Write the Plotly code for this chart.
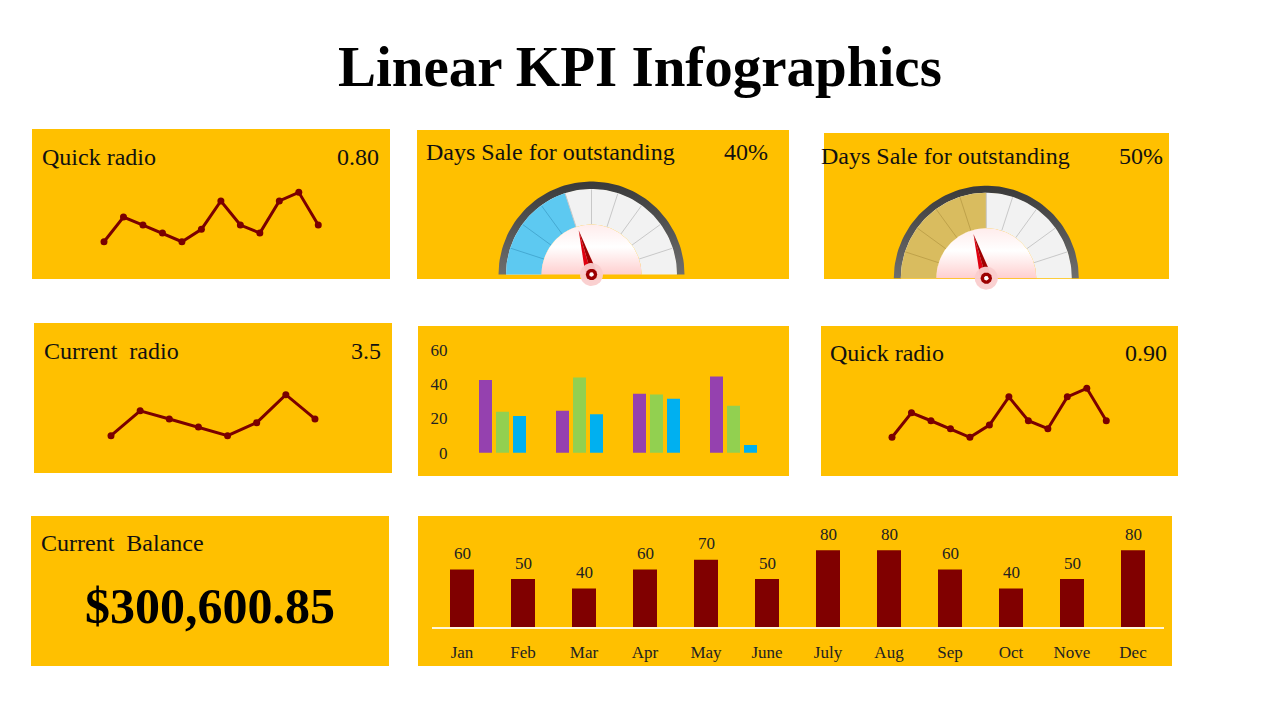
import numpy as np
import plotly.graph_objects as go

W, H = 1280, 720
FONT = "Liberation Serif"

# ---------------- data ----------------
title_text = "Linear KPI Infographics"

quick_ratio_a_vals = [1.0, 3.0, 2.35, 1.7, 1.0, 2.0, 4.3, 2.35, 1.7, 4.3, 5.0, 2.35]
quick_ratio_b_vals = [1.0, 3.0, 2.35, 1.7, 1.0, 2.0, 4.3, 2.35, 1.7, 4.3, 5.0, 2.35]
current_ratio_vals = [1.0, 3.0, 2.35, 1.7, 1.0, 2.05, 4.3, 2.35]

kpi_labels = ["Quick radio", "Days Sale for outstanding", "Days Sale for outstanding",
              "Current\u00a0 radio", "Quick radio"]
kpi_values = ["0.80", "40%", "50%", "3.5", "0.90"]

gauge_fill = [40, 50]
gauge_needle = [41, 41]

group_names = ["G1", "G2", "G3", "G4"]
series_purple = [42.5, 24.5, 34.5, 44.5]
series_green = [24, 44, 34, 27.5]
series_blue = [21.5, 22.5, 31.5, 4.5]
group_ticks = [0, 20, 40, 60]

months = ["Jan", "Feb", "Mar", "Apr", "May", "June", "July", "Aug", "Sep", "Oct", "Nove", "Dec"]
month_vals = [60, 50, 40, 60, 70, 50, 80, 80, 60, 40, 50, 80]

balance_label = "Current\u00a0 Balance"
balance_value = "$300,600.85"

# ---------------- helpers ----------------
def fx(x):
    return x / W


def fy(y):
    return 1 - y / H


def cat_axis(first_px, step_px, n):
    lo = first_px - 0.5 * step_px
    hi = first_px + (n - 0.5) * step_px
    return [fx(lo), fx(hi)], [-0.5, n - 0.5]


def val_axis(ref_px, ref_val, ppu, vmin, vmax):
    bottom = ref_px + (ref_val - vmin) * ppu
    top = ref_px - (vmax - ref_val) * ppu
    return [fy(bottom), fy(top)], [vmin, vmax]


YELLOW = "#FFC000"
MAROON = "#800000"
LINE_RED = "#7A0000"

fig = go.Figure()

# panels
panels = [(32, 129, 390, 279), (417, 130, 789, 279), (824, 133, 1169, 279),
          (34, 323, 392, 473), (418, 326, 789, 476), (821, 326, 1178, 476),
          (31, 516, 389, 666), (418, 516, 1172, 666)]
shapes = []
for x0, y0, x1, y1 in panels:
    shapes.append(dict(type="rect", xref="paper", yref="paper", x0=fx(x0), x1=fx(x1),
                       y0=fy(y1), y1=fy(y0), fillcolor=YELLOW, line=dict(width=0), layer="below"))

layout_axes = {}

# ---------------- line charts ----------------
line_specs = [
    ("x", "y", quick_ratio_a_vals, (104, 19.48), (241.7, 1.0, 12.35)),
    ("x2", "y2", current_ratio_vals, (111, 29.14), (435.7, 1.0, 12.42)),
    ("x3", "y3", quick_ratio_b_vals, (892, 19.48), (437.3, 1.0, 12.25)),
]
for xa, ya, vals, (fpx, step), (rpx, rv, ppu) in line_specs:
    n = len(vals)
    xd, xr = cat_axis(fpx, step, n)
    yd, yr = val_axis(rpx, rv, ppu, 0, 6)
    fig.add_trace(go.Scatter(x=list(range(n)), y=vals, mode="lines+markers",
                             line=dict(color=LINE_RED, width=3),
                             marker=dict(color=LINE_RED, size=7),
                             xaxis=xa, yaxis=ya, hoverinfo="skip", showlegend=False))
    xkey = "xaxis" if xa == "x" else "xaxis" + xa[1:]
    ykey = "yaxis" if ya == "y" else "yaxis" + ya[1:]
    layout_axes[xkey] = dict(domain=xd, range=xr, visible=False, anchor=ya)
    layout_axes[ykey] = dict(domain=yd, range=yr, visible=False, anchor=xa)

# ---------------- grouped bars ----------------
gxd, gxr = cat_axis(502.5, 77, 4)
gyd, gyr = val_axis(452.7, 0, 1.711, -5, 65)
bw = 13 / 77
for vals, col, off in [(series_purple, "#9541AF", -23.5 / 77),
                       (series_green, "#92D050", -6.5 / 77),
                       (series_blue, "#00B0F0", 10.5 / 77)]:
    fig.add_trace(go.Bar(x=group_names, y=vals, marker=dict(color=col, line=dict(width=0)),
                         width=bw, offset=off, xaxis="x4", yaxis="y4",
                         hoverinfo="skip", showlegend=False))
layout_axes["xaxis4"] = dict(domain=gxd, range=gxr, type="category", visible=False, anchor="y4")
layout_axes["yaxis4"] = dict(domain=gyd, range=gyr, anchor="x4", showgrid=False, zeroline=False,
                             showline=False, tickvals=group_ticks, ticks="outside", ticklen=12,
                             tickcolor="rgba(0,0,0,0)",
                             tickfont=dict(family=FONT, size=17, color="#222222"))

# ---------------- monthly bars ----------------
mxd, mxr = cat_axis(462, 61, 12)
myd, myr = val_axis(627, 0, 0.96, 0, 100)
fig.add_trace(go.Bar(x=months, y=month_vals, marker=dict(color=MAROON, line=dict(width=0)),
                     width=24 / 61, xaxis="x5", yaxis="y5", hoverinfo="skip", showlegend=False))
layout_axes["xaxis5"] = dict(domain=mxd, range=mxr, type="category", anchor="y5",
                             showgrid=False, zeroline=False, showline=True,
                             linecolor="rgba(255,255,255,0.85)", linewidth=1.5,
                             ticks="outside", ticklen=9, tickcolor="rgba(0,0,0,0)",
                             tickfont=dict(family=FONT, size=17, color="#222222"))
layout_axes["yaxis5"] = dict(domain=myd, range=myr, visible=False, anchor="x5")

annotations = []
for m, v in zip(months, month_vals):
    annotations.append(dict(x=m, y=v, xref="x5", yref="y5", text=str(v), showarrow=False,
                            yshift=16, yanchor="middle",
                            font=dict(family=FONT, size=17, color="#222222")))

# ---------------- gauges (pixel overlay axes) ----------------
layout_axes["xaxis6"] = dict(domain=[0, 1], range=[0, W], visible=False, anchor="y6")
layout_axes["yaxis6"] = dict(domain=[0, 1], range=[H, 0], visible=False, anchor="x6")


def arc(cx, cy, r, a0, a1, n=80):
    t = np.radians(np.linspace(a0, a1, n))
    return list(cx + r * np.cos(t)), list(cy - r * np.sin(t))


def poly(xs, ys, color=None, grad=None):
    kw = dict(x=xs, y=ys, mode="lines", fill="toself", line=dict(width=0),
              xaxis="x6", yaxis="y6", hoverinfo="skip", showlegend=False)
    if grad is not None:
        kw["fillgradient"] = grad
        kw["fillcolor"] = grad["colorscale"][0][1]
    else:
        kw["fillcolor"] = color
    fig.add_trace(go.Scatter(**kw))


def annulus(cx, cy, r0, r1, a0, a1, color=None, grad=None):
    ox, oy = arc(cx, cy, r1, a0, a1)
    ix, iy = arc(cx, cy, r0, a1, a0)
    poly(ox + ix + [ox[0]], oy + iy + [oy[0]], color=color, grad=grad)


def circle(cx, cy, r, color):
    xs, ys = arc(cx, cy, r, 0, 360, 60)
    poly(xs, ys, color=color)


gauge_geo = [(591.5, 274.5, 93), (986.3, 278.2, 92.5)]
gauge_colors = [("#5DC9F1", "#45A9D2"), ("#D9BC5F", "#BFA24A")]
R_RING, R_IN = 85, 50

for (cx, cy, R), fill_v, needle_v, (fc, sep_c) in zip(gauge_geo, gauge_fill, gauge_needle, gauge_colors):
    # outer ring
    annulus(cx, cy, R_RING, R, 180, 0,
            grad=dict(type="vertical", start=cy - R, stop=cy,
                      colorscale=[[0, "#3A3A3A"], [1, "#6E6E6E"]]))
    # grey scale band
    annulus(cx, cy, R_IN, R_RING + 0.5, 180, 0, color="#F2F2F2")
    # value band
    fa = 180 - 1.8 * fill_v
    annulus(cx, cy, R_IN, R_RING + 0.5, 180, fa, color=fc)
    # separators
    for col, cond in [(sep_c, True), ("#C8C8C8", False)]:
        xs, ys = [], []
        for k in range(1, 10):
            a = 180 - 18 * k
            if (a > fa) == cond:
                t = np.radians(a)
                xs += [cx + R_IN * np.cos(t), cx + R_RING * np.cos(t), None]
                ys += [cy - R_IN * np.sin(t), cy - R_RING * np.sin(t), None]
        if xs:
            fig.add_trace(go.Scatter(x=xs, y=ys, mode="lines", line=dict(color=col, width=1),
                                     xaxis="x6", yaxis="y6", hoverinfo="skip", showlegend=False))
    # inner semicircle
    sx, sy = arc(cx, cy, R_IN, 180, 0)
    poly(sx + [sx[0]], sy + [sy[0]],
         grad=dict(type="vertical", start=cy - R_IN, stop=cy,
                   colorscale=[[0, "#FFECEC"], [0.45, "#FFFFFF"], [1, "#FFCFCF"]]))
    # needle
    t = np.radians(180 - 1.8 * needle_v)
    d = np.array([np.cos(t), -np.sin(t)])
    p = np.array([np.sin(t), np.cos(t)])
    c = np.array([cx, cy])
    tip = c + 46 * d
    bl = c - 6 * p
    br = c + 6 * p
    poly([tip[0], bl[0], c[0], tip[0]], [tip[1], bl[1], c[1], tip[1]], color="#E00010")
    poly([tip[0], c[0], br[0], tip[0]], [tip[1], c[1], br[1], tip[1]], color="#A00000")
    # pivot
    circle(cx, cy, 11.5, "rgba(250,205,205,0.95)")
    circle(cx, cy, 5.7, "#9C0000")
    circle(cx, cy, 2.3, "#FFFFFF")

# ---------------- texts ----------------
annotations.append(dict(x=0.5, y=fy(66), xref="paper", yref="paper", text="<b>" + title_text + "</b>",
                        showarrow=False, xanchor="center", yanchor="middle",
                        font=dict(family=FONT, size=57, color="#000000")))

label_pos = [(40, 157), (424, 152), (819, 156), (42, 351), (828, 353)]
value_pos = [(381, 157), (770, 152), (1165, 156), (383, 351), (1169, 353)]
for txt, (x, y) in zip(kpi_labels, label_pos):
    annotations.append(dict(x=fx(x), y=fy(y), xref="paper", yref="paper", text=txt, showarrow=False,
                            xanchor="left", yanchor="middle",
                            font=dict(family=FONT, size=24, color="#111111")))
for txt, (x, y) in zip(kpi_values, value_pos):
    annotations.append(dict(x=fx(x), y=fy(y), xref="paper", yref="paper", text=txt, showarrow=False,
                            xanchor="right", yanchor="middle",
                            font=dict(family=FONT, size=24, color="#111111")))

annotations.append(dict(x=fx(39), y=fy(543), xref="paper", yref="paper", text=balance_label,
                        showarrow=False, xanchor="left", yanchor="middle",
                        font=dict(family=FONT, size=24, color="#111111")))
annotations.append(dict(x=fx(210), y=fy(606), xref="paper", yref="paper",
                        text="<b>" + balance_value + "</b>", showarrow=False,
                        xanchor="center", yanchor="middle",
                        font=dict(family=FONT, size=50, color="#000000")))

fig.update_layout(
    width=W, height=H, margin=dict(l=0, r=0, t=0, b=0), autosize=False,
    paper_bgcolor="#FFFFFF", plot_bgcolor="rgba(0,0,0,0)",
    template="none", barmode="overlay", showlegend=False,
    shapes=shapes, annotations=annotations,
    font=dict(family=FONT),
    **layout_axes,
)

fig.write_html("out.html", config={"displayModeBar": False, "staticPlot": True},
               post_script="document.body.style.margin='0px';document.body.style.overflow='hidden';")
